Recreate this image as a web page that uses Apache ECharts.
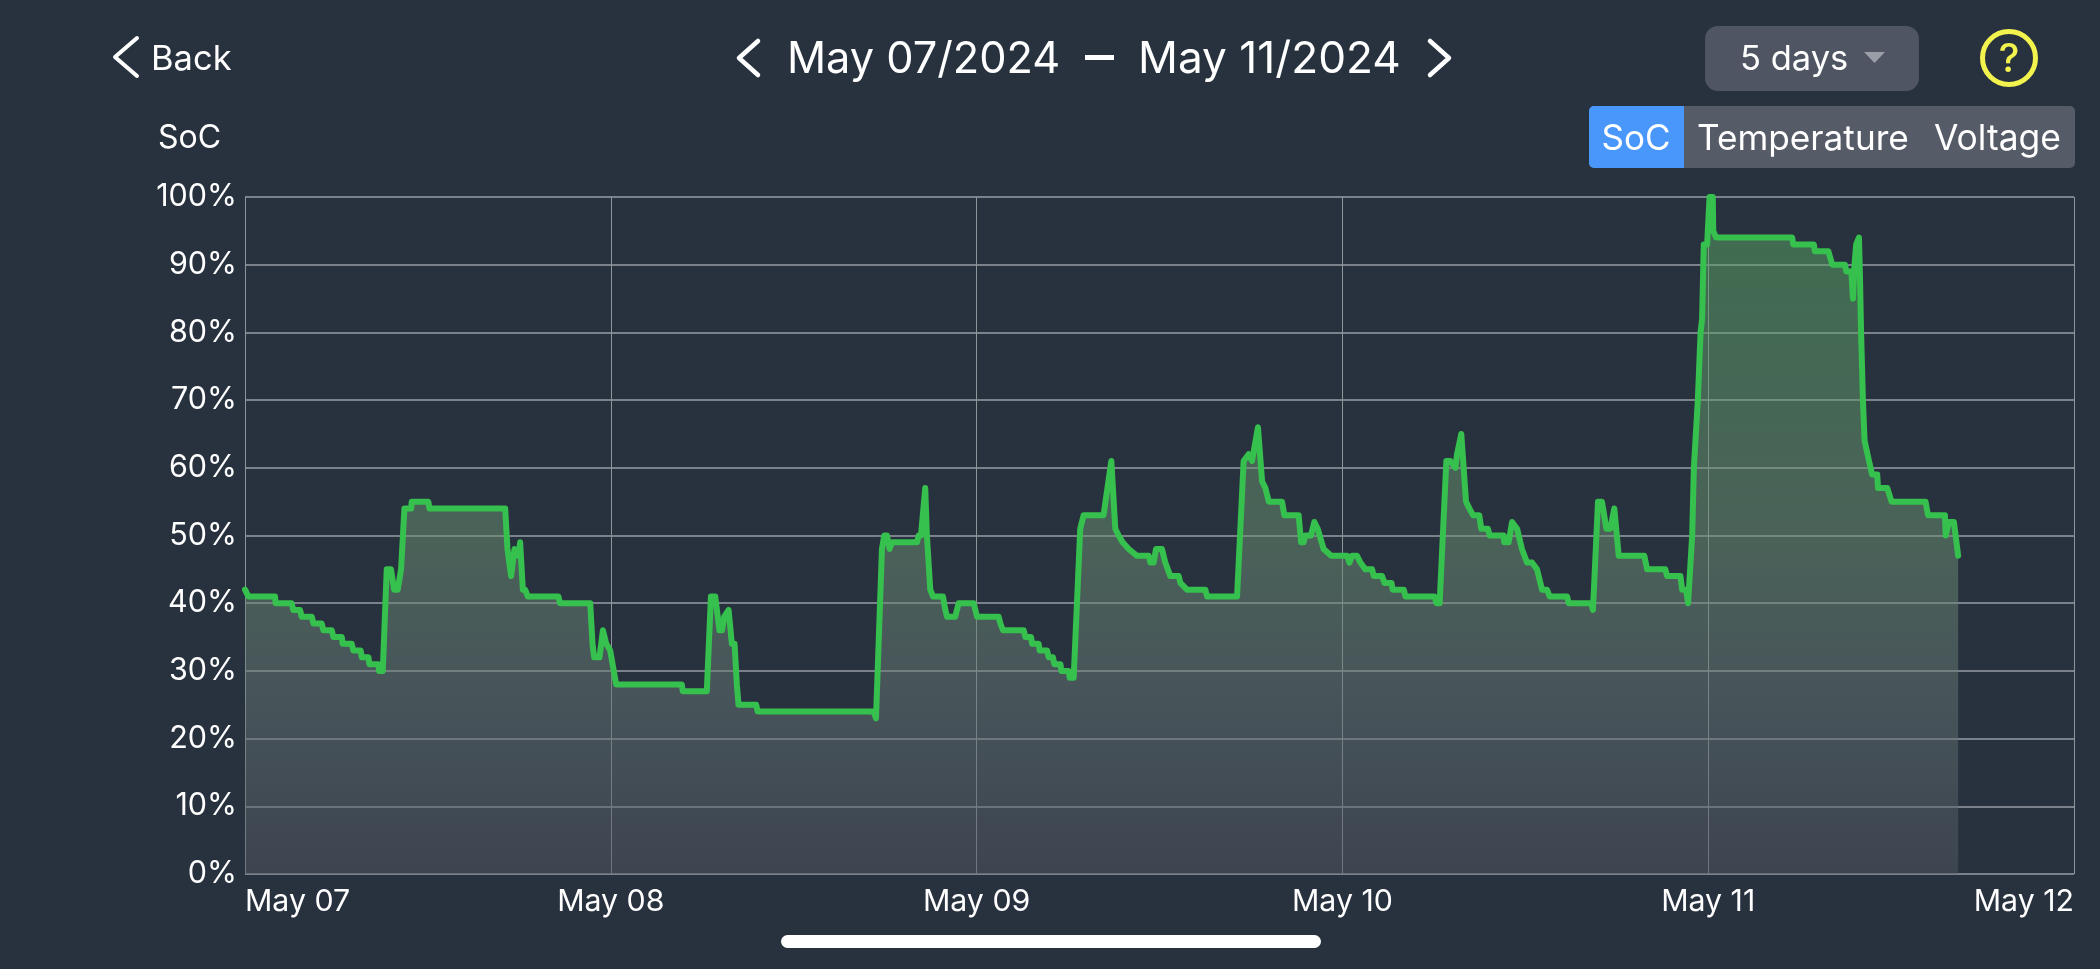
<!DOCTYPE html>
<html>
<head>
<meta charset="utf-8">
<title>SoC history</title>
<script src="https://cdn.jsdelivr.net/npm/echarts@6/dist/echarts.min.js"></script>
<style>
  html, body { margin: 0; padding: 0; background: #28323f; }
  #chart { width: 2100px; height: 969px; }
</style>
</head>
<body>
<div id="chart"></div>
<script>
// State of charge samples, hours counted from May 07 00:00
const sampleHours = [
  0, .22, 1.97, 2.01, 3.06, 3.17, 3.61, 3.72, 4.38, 4.49, 5.03, 5.14, 5.69, 5.80, 6.35, 6.41, 7.0, 7.11, 7.59, 7.66,
  8.10, 8.16, 8.75, 8.80, 9.04, 9.30, 9.58, 9.78, 10.02, 10.24, 10.46, 10.90, 10.94, 12.03, 12.10, 17.07, 17.22, 17.46,
  17.68, 17.94, 18.05, 18.23, 18.38, 18.55, 20.56, 20.67, 22.65, 22.80, 22.91, 23.26, 23.48, 23.70, 23.96, 24.35,
  28.66, 28.72, 30.30, 30.57, 30.85, 31.13, 31.30, 31.44, 31.73, 31.94, 32.12, 32.27, 32.38, 33.54, 33.63, 41.24, 41.40, 41.50,
  41.79, 41.94, 42.12, 42.29, 42.45, 44.09, 44.20, 44.35, 44.63, 44.74, 44.96, 45.14, 45.79, 45.95, 46.06, 46.60, 46.82, 47.81, 48.03,
  49.45, 49.56, 49.73, 51.09, 51.20, 51.57, 51.64, 52.07, 52.14, 52.62, 52.73, 53.01, 53.10, 53.50, 53.56, 54.04, 54.11, 54.37,
  54.80, 55.02, 56.33, 56.84, 57.10, 57.32, 57.58, 57.98, 58.52, 59.29, 59.40, 59.62, 59.77, 60.16, 60.38, 60.71, 61.26, 61.37, 61.80,
  63.01, 63.12, 65.09, 65.52, 65.85, 66.07, 66.46, 66.73, 66.95, 67.17, 68.04, 68.19, 69.13, 69.29, 69.46, 69.57, 69.94, 70.16, 70.38,
  70.77, 71.26, 72.31, 72.46, 72.63, 72.96, 73.18, 73.51, 73.95, 74.06, 74.60, 74.76, 75.22, 75.30, 76.03, 76.14, 78.04, 78.17, 78.38,
  78.82, 79.08, 79.41, 79.52, 79.80, 80.11, 80.33, 80.57, 80.98, 81.11, 81.55, 81.66, 82.58, 82.62, 82.91, 83.13, 83.46, 83.78, 84.11,
  84.44, 84.77, 85.10, 85.42, 85.60, 86.74, 86.85, 88.31, 88.44, 88.77, 89.03, 89.32, 89.58, 89.84, 90.13, 91.81, 91.99, 93.19, 93.30,
  94.18, 94.29, 94.55, 94.68, 94.95, 95.06, 95.32, 95.50, 95.60, 95.71, 95.93, 96.09, 96.30, 96.33, 96.52, 101.51, 101.58, 102.93, 103.0,
  103.88, 104.14, 104.97, 105.06, 105.39, 105.50, 105.60, 105.71, 105.89, 105.96, 106.03, 106.15, 106.26, 106.55, 106.76, 107.09, 107.14,
  107.75, 108.03, 110.26, 110.42, 111.53, 111.58, 111.80, 112.12, 112.40
];
const socValues = [
  42, 41, 41, 40, 40, 39, 39, 38, 38, 37, 37, 36, 36, 35, 35, 34, 34, 33, 33, 32,
  32, 31, 31, 30, 30, 45, 45, 42, 42, 45, 54, 54, 55, 55, 54, 54, 48, 44,
  48, 47, 49, 42, 42, 41, 41, 40, 40, 34, 32, 32, 36, 34, 33, 28,
  28, 27, 27, 41, 41, 36, 36, 38, 39, 34, 34, 28, 25, 25, 24, 24, 23, 23,
  48, 50, 50, 48, 49, 49, 50, 50, 57, 50, 42, 41, 41, 39, 38, 38, 40, 40, 38,
  38, 37, 36, 36, 35, 35, 34, 34, 33, 33, 32, 32, 31, 31, 30, 30, 29, 29,
  51, 53, 53, 61, 51, 50, 49, 48, 47, 47, 46, 46, 48, 48, 46, 44, 44, 43, 42,
  42, 41, 41, 61, 62, 61, 66, 58, 57, 55, 55, 53, 53, 49, 49, 50, 50, 52, 51,
  48, 47, 47, 46, 47, 47, 46, 45, 45, 44, 44, 43, 43, 42, 42, 41, 41, 40, 40,
  61, 61, 60, 62, 65, 55, 54, 53, 53, 51, 51, 50, 50, 49, 49, 52, 51, 48, 46,
  46, 45, 42, 42, 41, 41, 40, 40, 39, 55, 55, 51, 51, 54, 47, 47, 45, 45, 44,
  44, 42, 42, 40, 50, 60, 70, 80, 82, 93, 93, 100, 100, 95, 94, 94, 93, 93, 92,
  92, 90, 90, 89, 89, 85, 90, 93, 94, 88, 80, 70, 64, 61, 59, 59, 57,
  57, 55, 55, 53, 53, 50, 52, 52, 47
];
const dayLabels = ['May 07', 'May 08', 'May 09', 'May 10', 'May 11', 'May 12'];
const hoursPerDay = 24;
const socTicks = { min: 0, max: 100, step: 10 };
const socPoints = sampleHours.map((h, i) => [h, socValues[i]]);

const uiFont = 'Inter, "Noto Sans", sans-serif';
const white = '#ffffff';
const pageColor = '#28323f';

// Header controls drawn around the plot
function label(text, x, y, size, align, fill, weight) {
  return {
    type: 'text', silent: true,
    style: { text, x, y, font: `${weight || 400} ${size}px ${uiFont}`, fill: fill || white, align: align || 'left', verticalAlign: 'middle' }
  };
}
function chevron(points, width) {
  return {
    type: 'polyline', silent: true,
    shape: { points },
    style: { stroke: white, lineWidth: width, fill: null, lineCap: 'round', lineJoin: 'round' }
  };
}
const headerItems = [
  chevron([[137, 38], [115, 57], [137, 76]], 4),
  label('Back', 151, 60, 34.5),
  chevron([[758, 41], [739, 58], [758, 75]], 4.5),
  label('May 07/2024', 787, 60, 43.3),
  { type: 'rect', silent: true, shape: { x: 1085, y: 55, width: 29, height: 5 }, style: { fill: white } },
  label('May 11/2024', 1138, 60, 44.2),
  chevron([[1430, 41], [1449, 58], [1430, 75]], 4.5),
  { type: 'rect', silent: true, shape: { x: 1705, y: 26, width: 214, height: 65, r: 13 }, style: { fill: '#4f5562' } },
  label('5 days', 1740, 60, 34.5),
  { type: 'polygon', silent: true, shape: { points: [[1864, 52], [1885, 52], [1874.5, 63]] }, style: { fill: '#9a9ea6' } },
  { type: 'circle', silent: true, shape: { cx: 2009, cy: 58, r: 26.5 }, style: { fill: null, stroke: '#f3f34e', lineWidth: 5 } },
  label('?', 2009, 60, 39, 'center', '#f3f34e', 500),
  label('SoC', 158, 138, 32),
  { type: 'rect', silent: true, shape: { x: 1589, y: 106, width: 486, height: 62, r: 5 }, style: { fill: '#565b68' } },
  { type: 'rect', silent: true, shape: { x: 1589, y: 106, width: 95, height: 62, r: [5, 0, 0, 5] }, style: { fill: '#4a97fb' } },
  label('SoC', 1636, 139, 35, 'center'),
  label('Temperature', 1697, 139, 35.2),
  label('Voltage', 1934, 139, 35.4),
  { type: 'rect', silent: true, shape: { x: 781, y: 935, width: 540, height: 13, r: 6.5 }, style: { fill: white } }
];

const chart = echarts.init(document.getElementById('chart'));
chart.setOption({
  animation: false,
  backgroundColor: pageColor,
  grid: { left: 245, right: 26, top: 197, bottom: 95 },
  xAxis: {
    type: 'value',
    min: 0,
    max: hoursPerDay * (dayLabels.length - 1),
    interval: hoursPerDay,
    axisLine: { show: false },
    axisTick: { show: false },
    splitLine: { show: true, lineStyle: { color: '#90959c', width: 1 } },
    axisLabel: {
      color: white,
      fontFamily: uiFont,
      fontWeight: 400,
      fontSize: 30.3,
      margin: 13,
      alignMinLabel: 'left',
      alignMaxLabel: 'right',
      formatter: v => dayLabels[v / hoursPerDay]
    }
  },
  yAxis: {
    type: 'value',
    min: socTicks.min,
    max: socTicks.max,
    interval: socTicks.step,
    axisLine: { show: false },
    axisTick: { show: false },
    splitLine: { show: true, lineStyle: { color: '#7c828b', width: 2 } },
    axisLabel: {
      color: white,
      fontFamily: uiFont,
      fontWeight: 400,
      fontSize: 30.5,
      margin: 8,
      padding: [3, 0, 0, 0],
      formatter: '{value}%'
    }
  },
  series: [{
    type: 'line',
    data: socPoints,
    showSymbol: false,
    smooth: false,
    clip: false,
    lineStyle: { color: '#36c04e', width: 6, cap: 'round', join: 'round' },
    areaStyle: {
      opacity: 1,
      color: {
        type: 'linear', x: 0, y: 0, x2: 0, y2: 1,
        colorStops: [
          { offset: 0, color: 'rgba(86,168,97,0.5)' },
          { offset: 0.5, color: 'rgba(108,146,113,0.5)' },
          { offset: 0.7, color: 'rgba(104,122,117,0.5)' },
          { offset: 1, color: 'rgba(82,87,98,0.5)' }
        ]
      }
    }
  }],
  graphic: headerItems
});
</script>
</body>
</html>
